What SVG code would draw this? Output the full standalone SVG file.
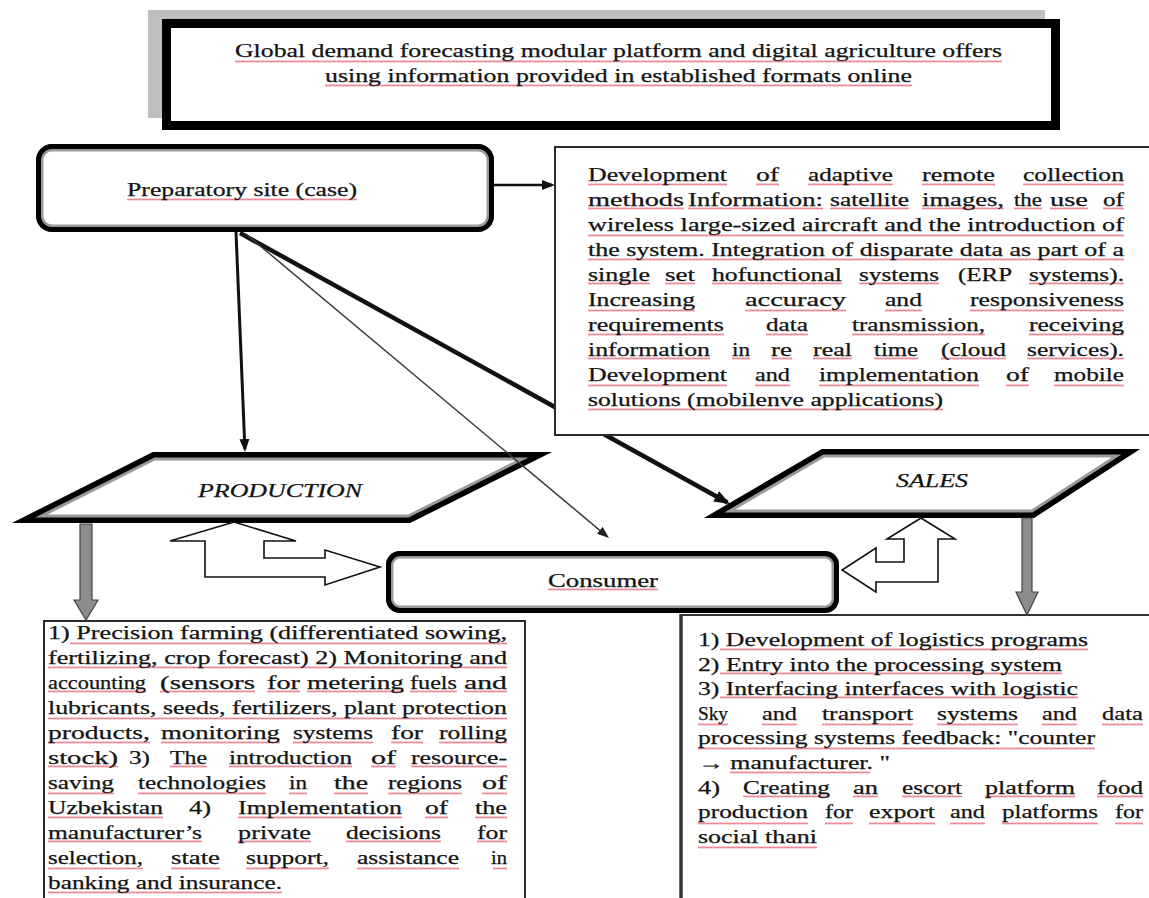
<svg xmlns="http://www.w3.org/2000/svg" width="1149" height="898" viewBox="0 0 1149 898" font-family="'Liberation Serif', 'DejaVu Serif', serif">
<style>
.t{font-family:'Liberation Serif','DejaVu Serif','Times New Roman',serif;font-size:18px;fill:#141414;stroke:#141414;stroke-width:0.25}
.it{font-style:italic}
.sq{fill:url(#wv);opacity:.7}
.box{fill:#fff;stroke:#2a2a2a;stroke-width:2}
.blk{fill:#fff;stroke:#111;stroke-width:1.6;stroke-linejoin:miter}
.gar{fill:#8c8c8c;stroke:#444;stroke-width:1.2}
.ln{fill:none;stroke:#111}
</style>
<defs>
<pattern id="wv" width="4" height="3" patternUnits="userSpaceOnUse"><path d="M0,2.5 L1,0.5 L2,2.5 L3,0.5 L4,2.5" fill="none" stroke="#e03048" stroke-width="0.8"/></pattern>
<marker id="ahB" markerUnits="userSpaceOnUse" markerWidth="16" markerHeight="12" refX="13" refY="6" orient="auto"><path d="M0,0 L16,6 L0,12 z" fill="#111"/></marker>
<marker id="ahM" markerUnits="userSpaceOnUse" markerWidth="13" markerHeight="10" refX="10" refY="5" orient="auto"><path d="M0,0 L13,5 L0,10 z" fill="#111"/></marker>
<marker id="ahS" markerUnits="userSpaceOnUse" markerWidth="12" markerHeight="9" refX="9" refY="4.5" orient="auto"><path d="M0,0 L12,4.5 L0,9 z" fill="#222"/></marker>
<clipPath id="cpPrep"><rect x="36" y="144" width="458" height="88" rx="16"/></clipPath>
<clipPath id="cpCons"><rect x="386" y="551" width="453" height="62" rx="14"/></clipPath>
<clipPath id="cpProd"><polygon points="153,452 552,452 410,523 12,523"/></clipPath>
<clipPath id="cpSales"><polygon points="822,449 1140,449 1034,518 704,518"/></clipPath>
</defs>
<rect width="1149" height="898" fill="#fff"/>

<g id="title">
<rect x="148" y="10" width="897" height="108" fill="#bfbfbf"/>
<rect x="166.5" y="23.5" width="889" height="102" fill="#fff" stroke="#000" stroke-width="9"/>
<rect class="sq" x="235" y="60" width="767" height="3"/>
<rect class="sq" x="325" y="84" width="587" height="3"/>
<text class="t" x="235" y="57" textLength="767" lengthAdjust="spacingAndGlyphs">Global demand forecasting modular platform and digital agriculture offers</text>
<text class="t" x="325" y="82" textLength="587" lengthAdjust="spacingAndGlyphs">using information provided in established formats online</text>
</g>

<g id="prep">
<rect x="36" y="144" width="458" height="88" rx="16" fill="#fff"/>
<rect x="36" y="144" width="458" height="88" rx="16" fill="none" stroke="#9a9a9a" stroke-width="15" clip-path="url(#cpPrep)"/>
<rect x="36" y="144" width="458" height="88" rx="16" fill="none" stroke="#000" stroke-width="10" clip-path="url(#cpPrep)"/>
<rect class="sq" x="127" y="198" width="230" height="3"/>
<text class="t" x="127" y="196" textLength="230" lengthAdjust="spacingAndGlyphs">Preparatory site (case)</text>
</g>

<g id="production">
<polygon points="153,452 552,452 410,523 12,523" fill="#fff"/>
<polygon points="153,452 552,452 410,523 12,523" fill="none" stroke="#9a9a9a" stroke-width="17" clip-path="url(#cpProd)"/>
<polygon points="153,452 552,452 410,523 12,523" fill="none" stroke="#000" stroke-width="11" clip-path="url(#cpProd)"/>
<text class="t it" x="198" y="497" textLength="164" lengthAdjust="spacingAndGlyphs">PRODUCTION</text>
</g>

<g id="sales">
<polygon points="822,449 1140,449 1034,518 704,518" fill="#fff"/>
<polygon points="822,449 1140,449 1034,518 704,518" fill="none" stroke="#9a9a9a" stroke-width="17" clip-path="url(#cpSales)"/>
<polygon points="822,449 1140,449 1034,518 704,518" fill="none" stroke="#000" stroke-width="11" clip-path="url(#cpSales)"/>
<text class="t it" x="896" y="487" textLength="72" lengthAdjust="spacingAndGlyphs">SALES</text>
</g>

<g id="consumer">
<rect x="386" y="551" width="453" height="62" rx="14" fill="#fff"/>
<rect x="386" y="551" width="453" height="62" rx="14" fill="none" stroke="#9a9a9a" stroke-width="15" clip-path="url(#cpCons)"/>
<rect x="386" y="551" width="453" height="62" rx="14" fill="none" stroke="#000" stroke-width="10" clip-path="url(#cpCons)"/>
<rect class="sq" x="548" y="588" width="110" height="3"/>
<text class="t" x="548" y="587" textLength="110" lengthAdjust="spacingAndGlyphs">Consumer</text>
</g>

<g id="production-details">
<rect class="box" x="44" y="621" width="481" height="290"/>
<rect class="sq" x="70" y="642" width="437" height="3"/>
<rect class="sq" x="48" y="666" width="459" height="3"/>
<rect class="sq" x="48" y="690" width="98" height="3"/><rect class="sq" x="160" y="690" width="95" height="3"/><rect class="sq" x="267" y="690" width="33" height="3"/><rect class="sq" x="307" y="690" width="97" height="3"/><rect class="sq" x="410" y="690" width="47" height="3"/><rect class="sq" x="464" y="690" width="43" height="3"/>
<rect class="sq" x="48" y="717" width="459" height="3"/>
<rect class="sq" x="48" y="741" width="102" height="3"/><rect class="sq" x="161" y="741" width="119" height="3"/><rect class="sq" x="293" y="741" width="80" height="3"/><rect class="sq" x="391" y="741" width="32" height="3"/><rect class="sq" x="439" y="741" width="68" height="3"/>
<rect class="sq" x="48" y="765" width="70" height="3"/><rect class="sq" x="170" y="765" width="37" height="3"/><rect class="sq" x="229" y="765" width="123" height="3"/><rect class="sq" x="371" y="765" width="25" height="3"/><rect class="sq" x="411" y="765" width="96" height="3"/>
<rect class="sq" x="48" y="792" width="66" height="3"/><rect class="sq" x="138" y="792" width="128" height="3"/><rect class="sq" x="289" y="792" width="18" height="3"/><rect class="sq" x="334" y="792" width="34" height="3"/><rect class="sq" x="388" y="792" width="74" height="3"/><rect class="sq" x="482" y="792" width="25" height="3"/>
<rect class="sq" x="48" y="816" width="115" height="3"/><rect class="sq" x="238" y="816" width="164" height="3"/><rect class="sq" x="425" y="816" width="23" height="3"/><rect class="sq" x="475" y="816" width="32" height="3"/>
<rect class="sq" x="48" y="840" width="154" height="3"/><rect class="sq" x="238" y="840" width="73" height="3"/><rect class="sq" x="346" y="840" width="95" height="3"/><rect class="sq" x="477" y="840" width="30" height="3"/>
<rect class="sq" x="48" y="867" width="95" height="3"/><rect class="sq" x="171" y="867" width="49" height="3"/><rect class="sq" x="246" y="867" width="83" height="3"/><rect class="sq" x="357" y="867" width="102" height="3"/><rect class="sq" x="493" y="867" width="14" height="3"/>
<rect class="sq" x="48" y="891" width="234" height="3"/>
<text class="t" x="48" y="639" textLength="459" lengthAdjust="spacingAndGlyphs">1) Precision farming (differentiated sowing,</text>
<text class="t" x="48" y="664" textLength="459" lengthAdjust="spacingAndGlyphs">fertilizing, crop forecast) 2) Monitoring and</text>
<text class="t" x="48" y="689" textLength="98" lengthAdjust="spacingAndGlyphs">accounting</text>
<text class="t" x="160" y="689" textLength="95" lengthAdjust="spacingAndGlyphs">(sensors</text>
<text class="t" x="267" y="689" textLength="33" lengthAdjust="spacingAndGlyphs">for</text>
<text class="t" x="307" y="689" textLength="97" lengthAdjust="spacingAndGlyphs">metering</text>
<text class="t" x="410" y="689" textLength="47" lengthAdjust="spacingAndGlyphs">fuels</text>
<text class="t" x="464" y="689" textLength="43" lengthAdjust="spacingAndGlyphs">and</text>
<text class="t" x="48" y="714" textLength="459" lengthAdjust="spacingAndGlyphs">lubricants, seeds, fertilizers, plant protection</text>
<text class="t" x="48" y="739" textLength="102" lengthAdjust="spacingAndGlyphs">products,</text>
<text class="t" x="161" y="739" textLength="119" lengthAdjust="spacingAndGlyphs">monitoring</text>
<text class="t" x="293" y="739" textLength="80" lengthAdjust="spacingAndGlyphs">systems</text>
<text class="t" x="391" y="739" textLength="32" lengthAdjust="spacingAndGlyphs">for</text>
<text class="t" x="439" y="739" textLength="68" lengthAdjust="spacingAndGlyphs">rolling</text>
<text class="t" x="48" y="764" textLength="70" lengthAdjust="spacingAndGlyphs">stock)</text>
<text class="t" x="129" y="764" textLength="21" lengthAdjust="spacingAndGlyphs">3)</text>
<text class="t" x="170" y="764" textLength="37" lengthAdjust="spacingAndGlyphs">The</text>
<text class="t" x="229" y="764" textLength="123" lengthAdjust="spacingAndGlyphs">introduction</text>
<text class="t" x="371" y="764" textLength="25" lengthAdjust="spacingAndGlyphs">of</text>
<text class="t" x="411" y="764" textLength="96" lengthAdjust="spacingAndGlyphs">resource-</text>
<text class="t" x="48" y="789" textLength="66" lengthAdjust="spacingAndGlyphs">saving</text>
<text class="t" x="138" y="789" textLength="128" lengthAdjust="spacingAndGlyphs">technologies</text>
<text class="t" x="289" y="789" textLength="18" lengthAdjust="spacingAndGlyphs">in</text>
<text class="t" x="334" y="789" textLength="34" lengthAdjust="spacingAndGlyphs">the</text>
<text class="t" x="388" y="789" textLength="74" lengthAdjust="spacingAndGlyphs">regions</text>
<text class="t" x="482" y="789" textLength="25" lengthAdjust="spacingAndGlyphs">of</text>
<text class="t" x="48" y="814" textLength="115" lengthAdjust="spacingAndGlyphs">Uzbekistan</text>
<text class="t" x="189" y="814" textLength="22" lengthAdjust="spacingAndGlyphs">4)</text>
<text class="t" x="238" y="814" textLength="164" lengthAdjust="spacingAndGlyphs">Implementation</text>
<text class="t" x="425" y="814" textLength="23" lengthAdjust="spacingAndGlyphs">of</text>
<text class="t" x="475" y="814" textLength="32" lengthAdjust="spacingAndGlyphs">the</text>
<text class="t" x="48" y="839" textLength="154" lengthAdjust="spacingAndGlyphs">manufacturer’s</text>
<text class="t" x="238" y="839" textLength="73" lengthAdjust="spacingAndGlyphs">private</text>
<text class="t" x="346" y="839" textLength="95" lengthAdjust="spacingAndGlyphs">decisions</text>
<text class="t" x="477" y="839" textLength="30" lengthAdjust="spacingAndGlyphs">for</text>
<text class="t" x="48" y="864" textLength="95" lengthAdjust="spacingAndGlyphs">selection,</text>
<text class="t" x="171" y="864" textLength="49" lengthAdjust="spacingAndGlyphs">state</text>
<text class="t" x="246" y="864" textLength="83" lengthAdjust="spacingAndGlyphs">support,</text>
<text class="t" x="357" y="864" textLength="102" lengthAdjust="spacingAndGlyphs">assistance</text>
<text class="t" x="491" y="864" textLength="16" lengthAdjust="spacingAndGlyphs">in</text>
<text class="t" x="48" y="889" textLength="234" lengthAdjust="spacingAndGlyphs">banking and insurance.</text>
</g>

<g id="sales-details">
<path d="M681,615 H1152" fill="none" stroke="#333" stroke-width="2.2"/>
<path d="M681,614 V905" fill="none" stroke="#333" stroke-width="3.5"/>
<rect class="sq" x="720" y="648" width="368" height="3"/>
<rect class="sq" x="720" y="672" width="342" height="3"/>
<rect class="sq" x="720" y="696" width="358" height="3"/>
<rect class="sq" x="698" y="723" width="30" height="3"/><rect class="sq" x="762" y="723" width="35" height="3"/><rect class="sq" x="822" y="723" width="91" height="3"/><rect class="sq" x="937" y="723" width="81" height="3"/><rect class="sq" x="1042" y="723" width="35" height="3"/><rect class="sq" x="1102" y="723" width="41" height="3"/>
<rect class="sq" x="698" y="747" width="397" height="3"/>
<rect class="sq" x="730" y="771" width="140" height="3"/>
<rect class="sq" x="743" y="795" width="87" height="3"/><rect class="sq" x="853" y="795" width="25" height="3"/><rect class="sq" x="902" y="795" width="60" height="3"/><rect class="sq" x="985" y="795" width="90" height="3"/><rect class="sq" x="1097" y="795" width="46" height="3"/>
<rect class="sq" x="698" y="822" width="110" height="3"/><rect class="sq" x="825" y="822" width="28" height="3"/><rect class="sq" x="869" y="822" width="66" height="3"/><rect class="sq" x="950" y="822" width="35" height="3"/><rect class="sq" x="1002" y="822" width="96" height="3"/><rect class="sq" x="1115" y="822" width="28" height="3"/>
<rect class="sq" x="698" y="846" width="119" height="3"/>
<text class="t" x="698" y="646" textLength="390" lengthAdjust="spacingAndGlyphs">1) Development of logistics programs</text>
<text class="t" x="698" y="671" textLength="364" lengthAdjust="spacingAndGlyphs">2) Entry into the processing system</text>
<text class="t" x="698" y="695" textLength="380" lengthAdjust="spacingAndGlyphs">3) Interfacing interfaces with logistic</text>
<text class="t" x="698" y="720" textLength="30" lengthAdjust="spacingAndGlyphs">Sky</text>
<text class="t" x="762" y="720" textLength="35" lengthAdjust="spacingAndGlyphs">and</text>
<text class="t" x="822" y="720" textLength="91" lengthAdjust="spacingAndGlyphs">transport</text>
<text class="t" x="937" y="720" textLength="81" lengthAdjust="spacingAndGlyphs">systems</text>
<text class="t" x="1042" y="720" textLength="35" lengthAdjust="spacingAndGlyphs">and</text>
<text class="t" x="1102" y="720" textLength="41" lengthAdjust="spacingAndGlyphs">data</text>
<text class="t" x="698" y="744" textLength="397" lengthAdjust="spacingAndGlyphs">processing systems feedback: "counter</text>
<text class="t" x="698" y="769" textLength="192" lengthAdjust="spacingAndGlyphs">→ manufacturer. "</text>
<text class="t" x="698" y="794" textLength="22" lengthAdjust="spacingAndGlyphs">4)</text>
<text class="t" x="743" y="794" textLength="87" lengthAdjust="spacingAndGlyphs">Creating</text>
<text class="t" x="853" y="794" textLength="25" lengthAdjust="spacingAndGlyphs">an</text>
<text class="t" x="902" y="794" textLength="60" lengthAdjust="spacingAndGlyphs">escort</text>
<text class="t" x="985" y="794" textLength="90" lengthAdjust="spacingAndGlyphs">platform</text>
<text class="t" x="1097" y="794" textLength="46" lengthAdjust="spacingAndGlyphs">food</text>
<text class="t" x="698" y="818" textLength="110" lengthAdjust="spacingAndGlyphs">production</text>
<text class="t" x="825" y="818" textLength="28" lengthAdjust="spacingAndGlyphs">for</text>
<text class="t" x="869" y="818" textLength="66" lengthAdjust="spacingAndGlyphs">export</text>
<text class="t" x="950" y="818" textLength="35" lengthAdjust="spacingAndGlyphs">and</text>
<text class="t" x="1002" y="818" textLength="96" lengthAdjust="spacingAndGlyphs">platforms</text>
<text class="t" x="1115" y="818" textLength="28" lengthAdjust="spacingAndGlyphs">for</text>
<text class="t" x="698" y="843" textLength="119" lengthAdjust="spacingAndGlyphs">social thani</text>
</g>

<g id="connectors">
<path class="ln" d="M494,185 H552" stroke-width="2.5" marker-end="url(#ahM)"/>
<path class="ln" d="M236,232 L244.9,449" stroke-width="3" marker-end="url(#ahM)"/>
<path class="ln" d="M240,233 L727.4,502.5" stroke-width="4.5" marker-end="url(#ahB)"/>
<path d="M246,234 L606.7,536.1" fill="none" stroke="#3a3a3a" stroke-width="1.5" marker-end="url(#ahS)"/>
<polygon class="blk" points="234,522 296,541 264,541 264,558 325,558 325,550 380,567 325,585 325,577 205,577 205,541 170,541"/>
<polygon class="blk" points="921,518 955,539 938,539 938,582 876,582 876,592 842,570 876,548 876,562 904,562 904,539 887,539"/>
<polygon class="gar" points="80,524 92,524 92,600 98,600 86,620 74,600 80,600"/>
<polygon class="gar" points="1022,518 1032,518 1032,592 1038,592 1027,615 1016,592 1022,592"/>
</g>

<g id="info">
<rect class="box" x="555" y="147" width="600" height="288"/>
<rect class="sq" x="588" y="183" width="139" height="3"/><rect class="sq" x="756" y="183" width="23" height="3"/><rect class="sq" x="808" y="183" width="85" height="3"/><rect class="sq" x="922" y="183" width="73" height="3"/><rect class="sq" x="1023" y="183" width="101" height="3"/>
<rect class="sq" x="588" y="207" width="96" height="3"/><rect class="sq" x="688" y="207" width="135" height="3"/><rect class="sq" x="830" y="207" width="79" height="3"/><rect class="sq" x="922" y="207" width="82" height="3"/><rect class="sq" x="1014" y="207" width="28" height="3"/><rect class="sq" x="1050" y="207" width="38" height="3"/><rect class="sq" x="1103" y="207" width="21" height="3"/>
<rect class="sq" x="588" y="234" width="536" height="3"/>
<rect class="sq" x="588" y="258" width="536" height="3"/>
<rect class="sq" x="588" y="282" width="62" height="3"/><rect class="sq" x="665" y="282" width="30" height="3"/><rect class="sq" x="712" y="282" width="130" height="3"/><rect class="sq" x="859" y="282" width="80" height="3"/><rect class="sq" x="1029" y="282" width="95" height="3"/>
<rect class="sq" x="588" y="309" width="107" height="3"/><rect class="sq" x="745" y="309" width="101" height="3"/><rect class="sq" x="885" y="309" width="37" height="3"/><rect class="sq" x="970" y="309" width="154" height="3"/>
<rect class="sq" x="588" y="333" width="136" height="3"/><rect class="sq" x="766" y="333" width="42" height="3"/><rect class="sq" x="852" y="333" width="133" height="3"/><rect class="sq" x="1029" y="333" width="95" height="3"/>
<rect class="sq" x="588" y="357" width="122" height="3"/><rect class="sq" x="732" y="357" width="18" height="3"/><rect class="sq" x="771" y="357" width="21" height="3"/><rect class="sq" x="813" y="357" width="39" height="3"/><rect class="sq" x="874" y="357" width="44" height="3"/><rect class="sq" x="941" y="357" width="65" height="3"/><rect class="sq" x="1027" y="357" width="97" height="3"/>
<rect class="sq" x="588" y="384" width="139" height="3"/><rect class="sq" x="755" y="384" width="35" height="3"/><rect class="sq" x="819" y="384" width="160" height="3"/><rect class="sq" x="1006" y="384" width="23" height="3"/><rect class="sq" x="1054" y="384" width="70" height="3"/>
<rect class="sq" x="588" y="408" width="355" height="3"/>
<text class="t" x="588" y="181" textLength="139" lengthAdjust="spacingAndGlyphs">Development</text>
<text class="t" x="756" y="181" textLength="23" lengthAdjust="spacingAndGlyphs">of</text>
<text class="t" x="808" y="181" textLength="85" lengthAdjust="spacingAndGlyphs">adaptive</text>
<text class="t" x="922" y="181" textLength="73" lengthAdjust="spacingAndGlyphs">remote</text>
<text class="t" x="1023" y="181" textLength="101" lengthAdjust="spacingAndGlyphs">collection</text>
<text class="t" x="588" y="206" textLength="96" lengthAdjust="spacingAndGlyphs">methods</text>
<text class="t" x="688" y="206" textLength="135" lengthAdjust="spacingAndGlyphs">Information:</text>
<text class="t" x="830" y="206" textLength="79" lengthAdjust="spacingAndGlyphs">satellite</text>
<text class="t" x="922" y="206" textLength="82" lengthAdjust="spacingAndGlyphs">images,</text>
<text class="t" x="1014" y="206" textLength="28" lengthAdjust="spacingAndGlyphs">the</text>
<text class="t" x="1050" y="206" textLength="38" lengthAdjust="spacingAndGlyphs">use</text>
<text class="t" x="1103" y="206" textLength="21" lengthAdjust="spacingAndGlyphs">of</text>
<text class="t" x="588" y="231" textLength="536" lengthAdjust="spacingAndGlyphs">wireless large-sized aircraft and the introduction of</text>
<text class="t" x="588" y="256" textLength="536" lengthAdjust="spacingAndGlyphs">the system. Integration of disparate data as part of a</text>
<text class="t" x="588" y="281" textLength="62" lengthAdjust="spacingAndGlyphs">single</text>
<text class="t" x="665" y="281" textLength="30" lengthAdjust="spacingAndGlyphs">set</text>
<text class="t" x="712" y="281" textLength="130" lengthAdjust="spacingAndGlyphs">hofunctional</text>
<text class="t" x="859" y="281" textLength="80" lengthAdjust="spacingAndGlyphs">systems</text>
<text class="t" x="958" y="281" textLength="54" lengthAdjust="spacingAndGlyphs">(ERP</text>
<text class="t" x="1029" y="281" textLength="95" lengthAdjust="spacingAndGlyphs">systems).</text>
<text class="t" x="588" y="306" textLength="107" lengthAdjust="spacingAndGlyphs">Increasing</text>
<text class="t" x="745" y="306" textLength="101" lengthAdjust="spacingAndGlyphs">accuracy</text>
<text class="t" x="885" y="306" textLength="37" lengthAdjust="spacingAndGlyphs">and</text>
<text class="t" x="970" y="306" textLength="154" lengthAdjust="spacingAndGlyphs">responsiveness</text>
<text class="t" x="588" y="331" textLength="136" lengthAdjust="spacingAndGlyphs">requirements</text>
<text class="t" x="766" y="331" textLength="42" lengthAdjust="spacingAndGlyphs">data</text>
<text class="t" x="852" y="331" textLength="133" lengthAdjust="spacingAndGlyphs">transmission,</text>
<text class="t" x="1029" y="331" textLength="95" lengthAdjust="spacingAndGlyphs">receiving</text>
<text class="t" x="588" y="356" textLength="122" lengthAdjust="spacingAndGlyphs">information</text>
<text class="t" x="732" y="356" textLength="18" lengthAdjust="spacingAndGlyphs">in</text>
<text class="t" x="771" y="356" textLength="21" lengthAdjust="spacingAndGlyphs">re</text>
<text class="t" x="813" y="356" textLength="39" lengthAdjust="spacingAndGlyphs">real</text>
<text class="t" x="874" y="356" textLength="44" lengthAdjust="spacingAndGlyphs">time</text>
<text class="t" x="941" y="356" textLength="65" lengthAdjust="spacingAndGlyphs">(cloud</text>
<text class="t" x="1027" y="356" textLength="97" lengthAdjust="spacingAndGlyphs">services).</text>
<text class="t" x="588" y="381" textLength="139" lengthAdjust="spacingAndGlyphs">Development</text>
<text class="t" x="755" y="381" textLength="35" lengthAdjust="spacingAndGlyphs">and</text>
<text class="t" x="819" y="381" textLength="160" lengthAdjust="spacingAndGlyphs">implementation</text>
<text class="t" x="1006" y="381" textLength="23" lengthAdjust="spacingAndGlyphs">of</text>
<text class="t" x="1054" y="381" textLength="70" lengthAdjust="spacingAndGlyphs">mobile</text>
<text class="t" x="588" y="406" textLength="355" lengthAdjust="spacingAndGlyphs">solutions (mobilenve applications)</text>
</g>
</svg>
